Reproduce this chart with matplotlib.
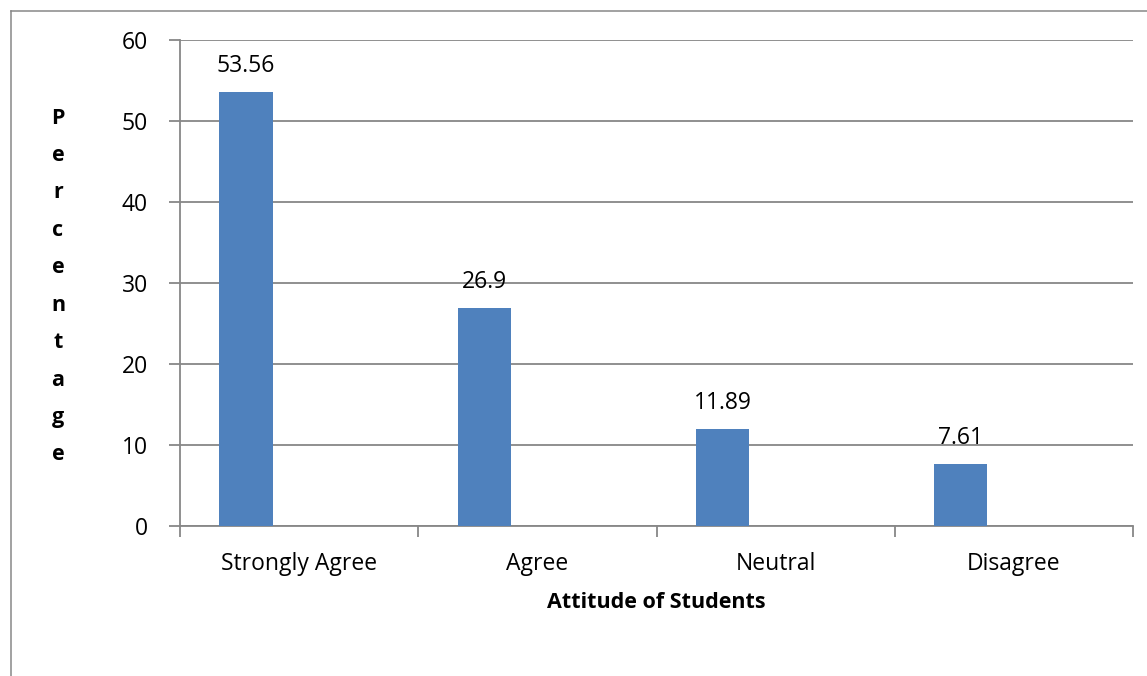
import matplotlib
matplotlib.use("Agg")
import matplotlib.pyplot as plt
from matplotlib.lines import Line2D
import numpy as np

categories = ["Strongly Agree", "Agree", "Neutral", "Disagree"]
values = [53.56, 26.9, 11.89, 7.61]
value_labels = ["53.56", "26.9", "11.89", "7.61"]
yticks = [0, 10, 20, 30, 40, 50, 60]
xlabel = "Attitude of Students"
ylabel = "Percentage"

W, H = 1147, 676
DPI = 100
plt.rcParams['font.family'] = ['Open Sans', 'DejaVu Sans']
fig = plt.figure(figsize=(W / DPI, H / DPI), dpi=DPI)
fig.patch.set_facecolor("white")

L, R, B, T = 180, 1133, 525.7, 40
ax = fig.add_axes([L / W, (H - B) / H, (R - L) / W, (B - T) / H])

gray = "#878787"
FS = 16.5
x = np.arange(len(categories))
offset = -0.223
width = 0.224
ax.bar(x + offset, values, width=width, color="#4F81BD", zorder=3)

ax.set_xlim(-0.5, len(categories) - 0.5)
ax.set_ylim(0, 60)
ax.set_yticks(yticks)
ax.set_yticklabels([str(t) for t in yticks], fontsize=FS)
ax.yaxis.grid(True, color=gray, linewidth=1.3, zorder=0)
ax.set_axisbelow(True)

# category boundary ticks (major) and category labels (minor)
ax.set_xticks(np.arange(-0.5, len(categories), 1.0))
ax.set_xticklabels([])
ax.set_xticks(x, minor=True)
ax.set_xticklabels(categories, minor=True, fontsize=FS)
ax.tick_params(axis="x", which="major", length=8, width=1.3, color=gray, direction="out")
ax.tick_params(axis="x", which="minor", length=0, pad=19)
ax.tick_params(axis="y", length=8, width=1.3, color=gray, pad=15)

for s in ["top", "right"]:
    ax.spines[s].set_visible(False)
for s in ["left", "bottom"]:
    ax.spines[s].set_color(gray)
    ax.spines[s].set_linewidth(1.3)

for xi, v, lab in zip(x, values, value_labels):
    ax.annotate(lab, (xi + offset, v), xytext=(0, 26), textcoords="offset pixels",
                ha="center", va="center", fontsize=FS, zorder=4)

# x label
fig.text(656.5 / W, 1 - 603 / H, xlabel, ha="center", va="center",
         fontsize=15.5, fontweight="bold")

# vertical stacked y label
top_y, bot_y = 118, 455
n = len(ylabel)
for i, ch in enumerate(ylabel):
    yy = top_y + (bot_y - top_y) * i / (n - 1)
    fig.text(58 / W, 1 - yy / H, ch, ha="center", va="center",
             fontsize=15.5, fontweight="bold")

# outer chart border (left and top visible)
fig.add_artist(Line2D([11 / W, 11 / W], [0, 1 - 10.5 / H], transform=fig.transFigure,
                      color=gray, linewidth=1.1))
fig.add_artist(Line2D([11 / W, 1], [1 - 10.5 / H, 1 - 10.5 / H], transform=fig.transFigure,
                      color=gray, linewidth=1.1))

fig.savefig("out.png", dpi=DPI, facecolor="white")
